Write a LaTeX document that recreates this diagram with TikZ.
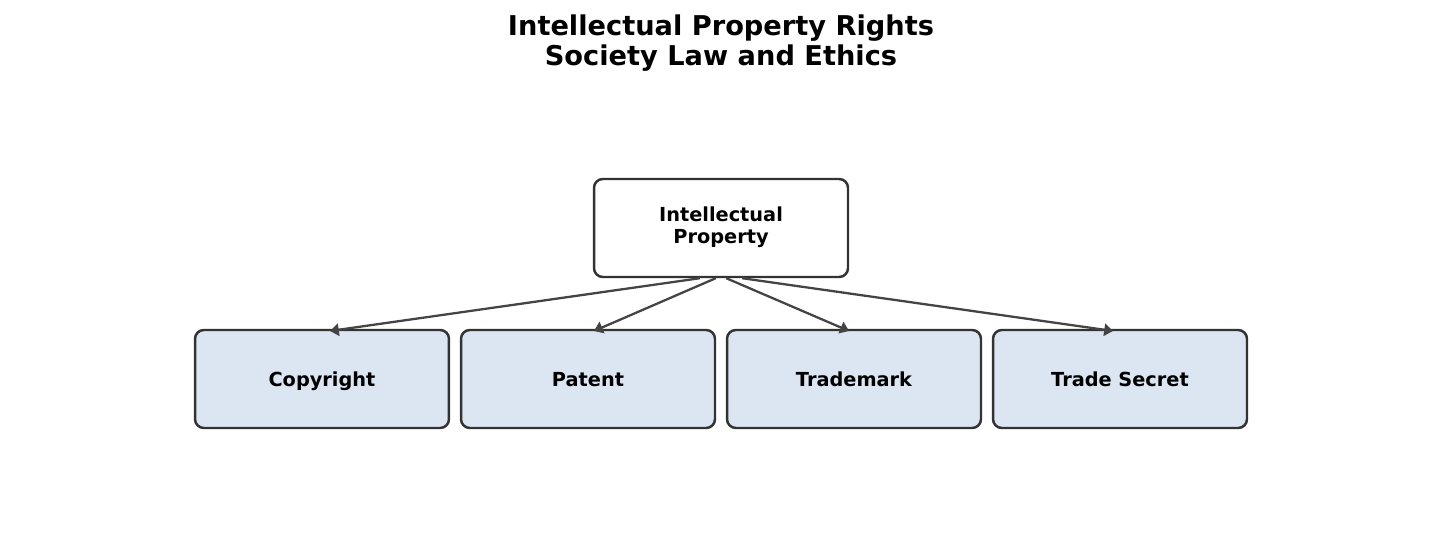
\documentclass[tikz,border=0pt]{standalone}
\usepackage{fontspec}
\setmainfont{DejaVu Sans}
\usetikzlibrary{arrows.meta}
\definecolor{boxline}{HTML}{333333}
\definecolor{arrowline}{HTML}{444444}
\definecolor{boxfill}{HTML}{DCE6F2}
\begin{document}
\begin{tikzpicture}[
            x=0.02cm, y=-0.02cm,
            box/.style={rectangle, rounded corners=5pt, draw=boxline, line width=1.4pt,
                        minimum width=5.08cm, minimum height=1.96cm, inner sep=0pt,
                        align=center, font=\fontsize{11}{12.5}\selectfont\bfseries},
            leaf/.style={box, fill=boxfill, text height=1.6ex, text depth=0.1ex},
            link/.style={draw=arrowline, line width=1.3pt, -{Triangle[length=5pt,width=7pt]}}
            ]
            \useasboundingbox (0,0) rectangle (1441,546);
            \node[font=\fontsize{15.5}{17}\selectfont\bfseries, align=center] (title) at (721,43)
                {Intellectual Property Rights\\Society Law and Ethics};
            \node[box, text depth=0.6ex] (ip) at (721,228) {Intellectual\\Property};
            \node[leaf] (copy) at (322,379) {Copyright};
            \node[leaf] (pat) at (588,379) {Patent};
            \node[leaf] (tm) at (854,379) {Trademark};
            \node[leaf] (ts) at (1120,379) {Trade Secret};

            \coordinate (a1) at (330,331);
            \coordinate (a2) at (594,331);
            \coordinate (a3) at (849,331);
            \coordinate (a4) at (1113,331);
            \draw[link] ([xshift=-12pt]ip.south) -- (a1);
            \draw[link] ([xshift=-3pt]ip.south) -- (a2);
            \draw[link] ([xshift=3pt]ip.south) -- (a3);
            \draw[link] ([xshift=12pt]ip.south) -- (a4);
            \end{tikzpicture}
\end{document}
